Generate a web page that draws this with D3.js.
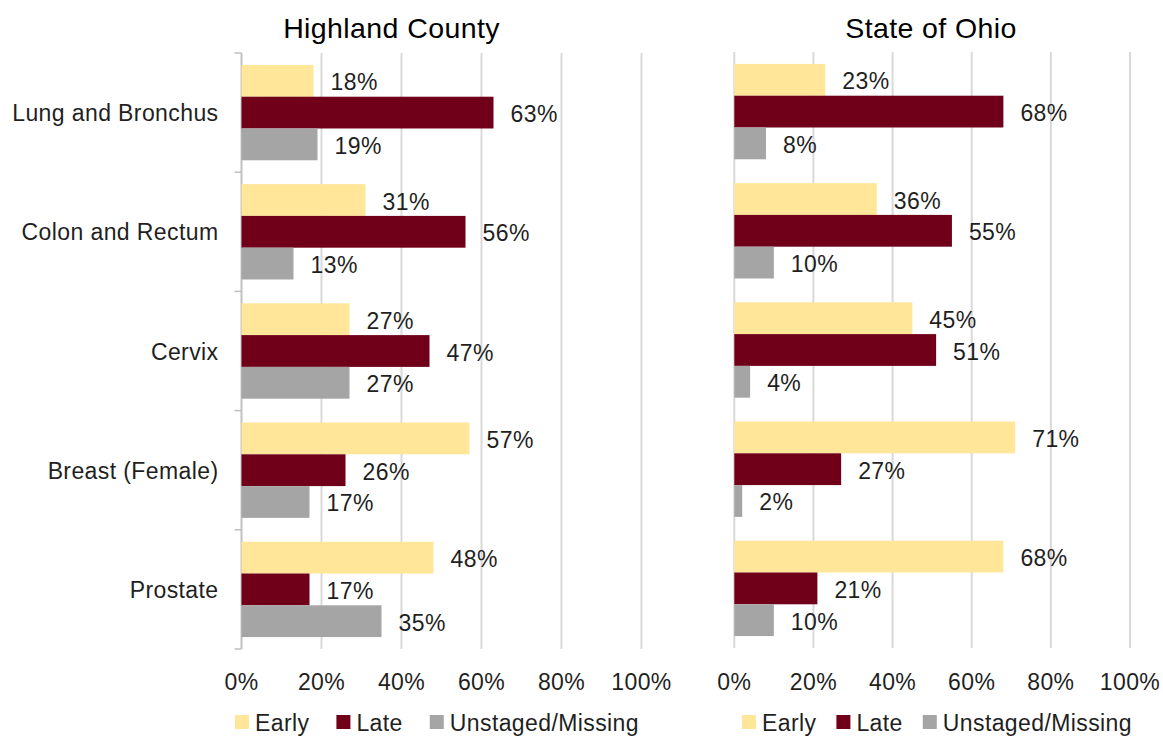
<!DOCTYPE html>
<html>
<head>
<meta charset="utf-8">
<script src="https://cdn.jsdelivr.net/npm/d3@7"></script>
<style>
  html, body { margin: 0; padding: 0; background: #fff; }
  svg { display: block; font-family: "Liberation Sans", Arial, sans-serif; }
  text { letter-spacing: 0.4px; }
</style>
</head>
<body>
<svg id="chart" width="1163" height="736"></svg>
<script>
const categories = ["Lung and Bronchus", "Colon and Rectum", "Cervix", "Breast (Female)", "Prostate"];
const seriesNames = ["Early", "Late", "Unstaged/Missing"];
const seriesColors = ["#FFE699", "#70001A", "#A5A5A5"];
const tickValues = [0, 20, 40, 60, 80, 100];

const highlandEarly = [18, 31, 27, 57, 48];
const highlandLate = [63, 56, 47, 26, 17];
const highlandUnstaged = [19, 13, 27, 17, 35];

const ohioEarly = [23, 36, 45, 71, 68];
const ohioLate = [68, 55, 51, 27, 21];
const ohioUnstaged = [8, 10, 4, 2, 10];

const panels = [
  { title: "Highland County", series: [highlandEarly, highlandLate, highlandUnstaged],
    x0: 241.5, x1: 641.5, y0: 53, y1: 649, titleX: 391.5, showAxis: true,
    legendX: 235, legendGap: 27, legendY: 715 },
  { title: "State of Ohio", series: [ohioEarly, ohioLate, ohioUnstaged],
    x0: 734.3, x1: 1130, y0: 52, y1: 648, titleX: 931, showAxis: false,
    legendX: 742, legendGap: 20, legendY: 715 }
];

const svg = d3.select("#chart");
const textColor = "#1f1f1f";
const fontSize = 23;

panels.forEach((p, pi) => {
  const g = svg.append("g");
  const x = d3.scaleLinear().domain([0, 100]).range([p.x0, p.x1]);
  const y = d3.scaleBand().domain(categories).range([p.y0, p.y1]).padding(0);
  const bw = y.bandwidth();
  const yi = d3.scaleBand().domain(seriesNames).range([0.1 * bw, 0.9 * bw]).padding(0);

  // gridlines
  g.append("g").selectAll("line").data(tickValues).join("line")
    .attr("x1", d => x(d)).attr("x2", d => x(d))
    .attr("y1", p.y0).attr("y2", p.y1)
    .attr("stroke", "#d9d9d9").attr("stroke-width", 2);

  // x tick labels
  g.append("g").selectAll("text").data(tickValues).join("text")
    .attr("x", d => x(d)).attr("y", 690)
    .attr("text-anchor", "middle")
    .attr("font-size", fontSize).attr("fill", textColor)
    .text(d => d + "%");

  // y axis (left panel only)
  if (p.showAxis) {
    g.append("line")
      .attr("x1", p.x0).attr("x2", p.x0).attr("y1", p.y0).attr("y2", p.y1)
      .attr("stroke", "#bfbfbf").attr("stroke-width", 1.5);
    const bounds = categories.map(c => y(c)).concat([p.y1]);
    g.append("g").selectAll("line").data(bounds).join("line")
      .attr("x1", p.x0 - 7).attr("x2", p.x0)
      .attr("y1", d => d).attr("y2", d => d)
      .attr("stroke", "#bfbfbf").attr("stroke-width", 1.5);
    g.append("g").selectAll("text").data(categories).join("text")
      .attr("x", p.x0 - 23).attr("y", d => y(d) + bw / 2 + 8.5)
      .attr("text-anchor", "end")
      .attr("font-size", fontSize).attr("fill", textColor)
      .text(d => d);
  }

  // bars
  p.series.forEach((vals, si) => {
    const sg = g.append("g");
    const rows = categories.map((c, i) => ({ c, v: vals[i] }));
    sg.selectAll("rect").data(rows).join("rect")
      .attr("x", x(0))
      .attr("y", d => y(d.c) + yi(seriesNames[si]))
      .attr("width", d => x(d.v) - x(0))
      .attr("height", yi.bandwidth())
      .attr("fill", seriesColors[si]);
    sg.selectAll("text").data(rows).join("text")
      .attr("x", d => x(d.v) + 17)
      .attr("y", d => y(d.c) + yi(seriesNames[si]) + yi.bandwidth() / 2 + 9.5)
      .attr("font-size", fontSize).attr("fill", textColor)
      .text(d => d.v + "%");
  });

  // title
  g.append("text")
    .attr("x", p.titleX).attr("y", 38)
    .attr("text-anchor", "middle")
    .attr("font-size", 28.5).attr("fill", "#000")
    .text(p.title);

  // legend
  const lg = g.append("g");
  let cx = p.legendX;
  seriesNames.forEach((s, si) => {
    lg.append("rect").attr("x", cx).attr("y", p.legendY).attr("width", 14).attr("height", 14)
      .attr("fill", seriesColors[si]);
    const t = lg.append("text").attr("x", cx + 20).attr("y", p.legendY + 15.5)
      .attr("font-size", fontSize).attr("fill", textColor).text(s);
    const w = t.node().getComputedTextLength();
    cx = cx + 20 + w + p.legendGap;
  });
});
</script>
</body>
</html>
